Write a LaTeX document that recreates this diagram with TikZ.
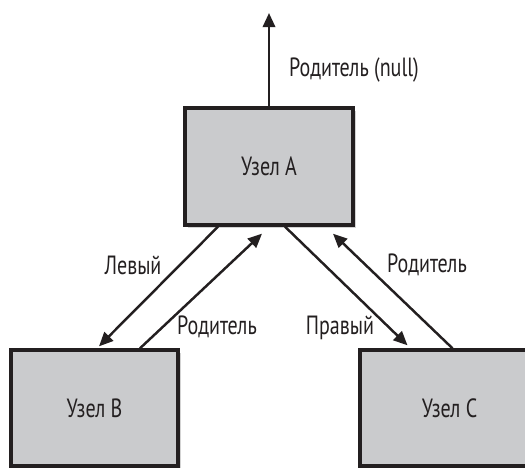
\documentclass[tikz,border=0pt]{standalone}
\usepackage{fontspec}
\setmainfont[FakeStretch=0.76]{PT Sans}
\usepackage{tikz}
\usetikzlibrary{arrows.meta,positioning,shadows}
\usepackage{xcolor}
\definecolor{nodefill}{HTML}{CACBCD}
\definecolor{ink}{HTML}{231F20}
\tikzset{
  >={Triangle[length=8pt,width=7pt]},
  every node/.style={font=\fontsize{15pt}{17pt}\selectfont,text=ink},
  treebox/.style={draw=ink,line width=1.9pt,fill=nodefill,align=center,inner sep=0pt,
    drop shadow={shadow xshift=1.5pt,shadow yshift=-1.5pt,opacity=0.35}},
  link/.style={->,line width=1.4pt,draw=ink},
  label/.style={inner sep=1pt},
}

\begin{document}
\begin{tikzpicture}[x=1cm,y=1cm]
  \useasboundingbox (0,0) rectangle (10.5,9.34);

  \node[treebox,minimum width=3.36cm,minimum height=2.34cm] (nodeA) at (5.38,6.01) {Узел A};
  \node[treebox,minimum width=3.34cm,minimum height=2.32cm] (nodeB) at (1.89,1.18) {Узел B};
  \node[treebox,minimum width=3.58cm,minimum height=2.32cm] (nodeC) at (8.99,1.18) {Узел C};

  % parent of the root
  \coordinate (top) at (5.38,9.08);
  \draw[link] (nodeA.north) -- (top);
  \node[label] (lblnull) at (7.08,7.94) {Родитель (null)};

  % left child
  \draw[link] ([xshift=-1.02cm]nodeA.south) -- ([xshift=0.09cm,yshift=0.04cm]nodeB.north);
  \draw[link] ([xshift=0.91cm]nodeB.north) -- ([xshift=-0.14cm,yshift=-0.14cm]nodeA.south);
  \node[label] (lblleft) at (2.66,4.04) {Левый};
  \node[label] (lblparB) at (4.34,2.80) {Родитель};

  % right child
  \draw[link] ([xshift=0.32cm]nodeA.south) -- ([xshift=-0.84cm,yshift=0.06cm]nodeC.north);
  \draw[link] ([xshift=0.06cm]nodeC.north) -- ([xshift=1.28cm,yshift=-0.14cm]nodeA.south);
  \node[label] (lblright) at (6.80,2.78) {Правый};
  \node[label] (lblparC) at (8.54,4.04) {Родитель};
\end{tikzpicture}
\end{document}
